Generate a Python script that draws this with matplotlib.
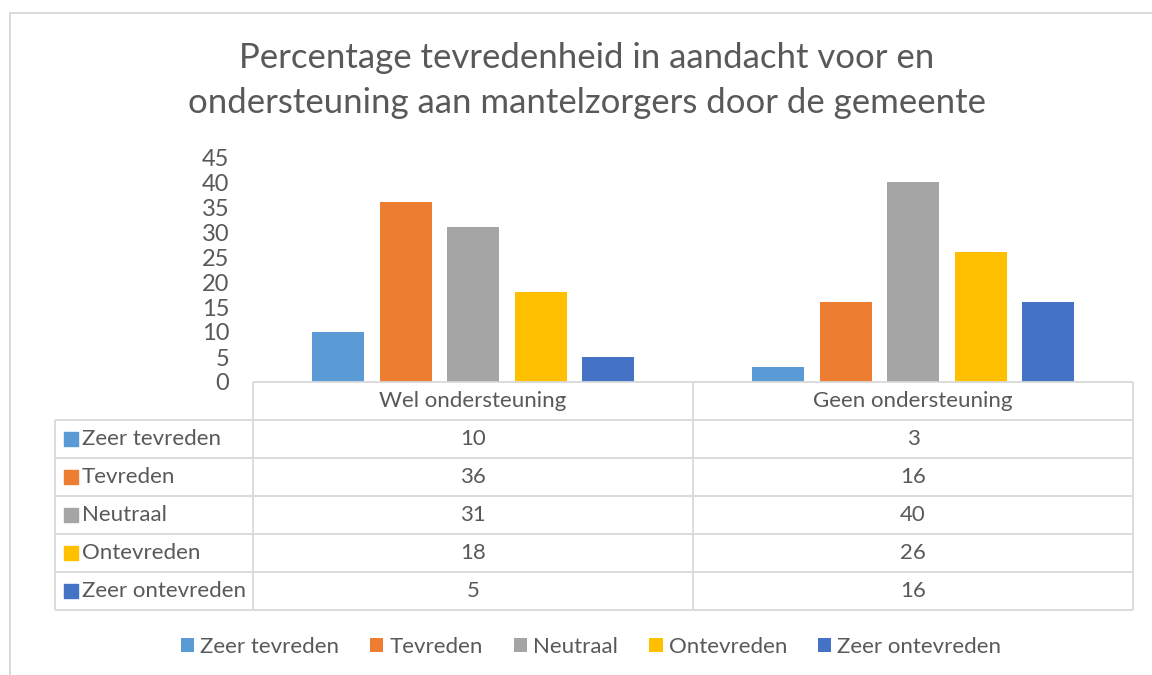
import matplotlib
matplotlib.use("Agg")
import matplotlib.pyplot as plt
from matplotlib.lines import Line2D
from matplotlib.patches import Patch
import numpy as np

# data
categories = ["Wel ondersteuning", "Geen ondersteuning"]
series_names = ["Zeer tevreden", "Tevreden", "Neutraal", "Ontevreden", "Zeer ontevreden"]
zeer_tevreden = [10, 3]
tevreden = [36, 16]
neutraal = [31, 40]
ontevreden = [18, 26]
zeer_ontevreden = [5, 16]
series_values = [zeer_tevreden, tevreden, neutraal, ontevreden, zeer_ontevreden]
colors = ["#5B9BD5", "#ED7D31", "#A5A5A5", "#FFC000", "#4472C4"]
title_lines = ["Percentage tevredenheid in aandacht voor en",
               "ondersteuning aan mantelzorgers door de gemeente"]
yticks = [0, 5, 10, 15, 20, 25, 30, 35, 40, 45]

W, H = 1152, 675
text_color = "#595959"
grid_color = "#D9D9D9"
fs = 16
plt.rcParams['font.family'] = ['Lato', 'DejaVu Sans']

fig = plt.figure(figsize=(W / 100, H / 100), dpi=100)

# chart border (cropped: only top and left visible)
fig.add_artist(Line2D([9.5 / W, 1], [1 - 12.5 / H, 1 - 12.5 / H], color=grid_color, lw=1.4))
fig.add_artist(Line2D([9.5 / W, 9.5 / W], [0, 1 - 12.5 / H], color=grid_color, lw=1.4))

# title
fig.text(587 / W, 1 - 58 / H, title_lines[0], ha="center", va="center", fontsize=25, color=text_color)
fig.text(587 / W, 1 - 103 / H, title_lines[1], ha="center", va="center", fontsize=25, color=text_color)

# bars
x0, x1 = 253, 1133
ax = fig.add_axes([x0 / W, 1 - 382 / H, (x1 - x0) / W, 225 / H])
x = np.arange(len(categories))
step = 67.5 / 440
width = 52 / 440
for i, (vals, col) in enumerate(zip(series_values, colors)):
    ax.bar(x + (i - 2) * step, vals, width, color=col, label=series_names[i])
ax.set_xlim(-0.5, len(categories) - 0.5)
ax.set_ylim(0, 45)
ax.set_yticks(yticks)
ax.set_xticks([])
ax.tick_params(axis="y", length=0, pad=17, labelsize=fs + 1, labelcolor=text_color)
for s in ax.spines.values():
    s.set_visible(False)

# data table
left = -0.5 - (253 - 55) / 440
tab = fig.add_axes([55 / W, 1 - 610 / H, (x1 - 55) / W, 228 / H])
tab.set_xlim(left, len(categories) - 0.5)
nrows = len(series_names) + 1
tab.set_ylim(nrows, 0)
tab.axis("off")
lw = 1.3
tab.hlines([0], -0.5, len(categories) - 0.5, color=grid_color, lw=lw, clip_on=False)
tab.hlines(np.arange(1, nrows + 1), left, len(categories) - 0.5, color=grid_color, lw=lw, clip_on=False)
tab.vlines(np.arange(len(categories) + 1) - 0.5, 0, nrows, color=grid_color, lw=lw, clip_on=False)
tab.vlines([left], 1, nrows, color=grid_color, lw=lw, clip_on=False)
for j, cat in enumerate(categories):
    tab.text(j, 0.5, cat, ha="center", va="center", fontsize=fs, color=text_color)
for i, (name, vals, col) in enumerate(zip(series_names, series_values, colors)):
    yc = i + 1.5
    tab.scatter([left + 16 / 440], [yc], marker="s", s=88, color=col, clip_on=False)
    tab.text(left + 27 / 440, yc, name, ha="left", va="center", fontsize=fs, color=text_color)
    for j, v in enumerate(vals):
        tab.text(j, yc, str(v), ha="center", va="center", fontsize=fs, color=text_color)

# legend
handles = [Patch(facecolor=c, edgecolor="none") for c in colors]
fig.legend(handles, series_names, loc="center", bbox_to_anchor=(591 / W, 1 - 647 / H), ncol=5,
           frameon=False, fontsize=fs, labelcolor=text_color, handlelength=0.6, handleheight=0.6,
           handletextpad=0.27, columnspacing=1.4)

fig.savefig("out.png", dpi=100)
